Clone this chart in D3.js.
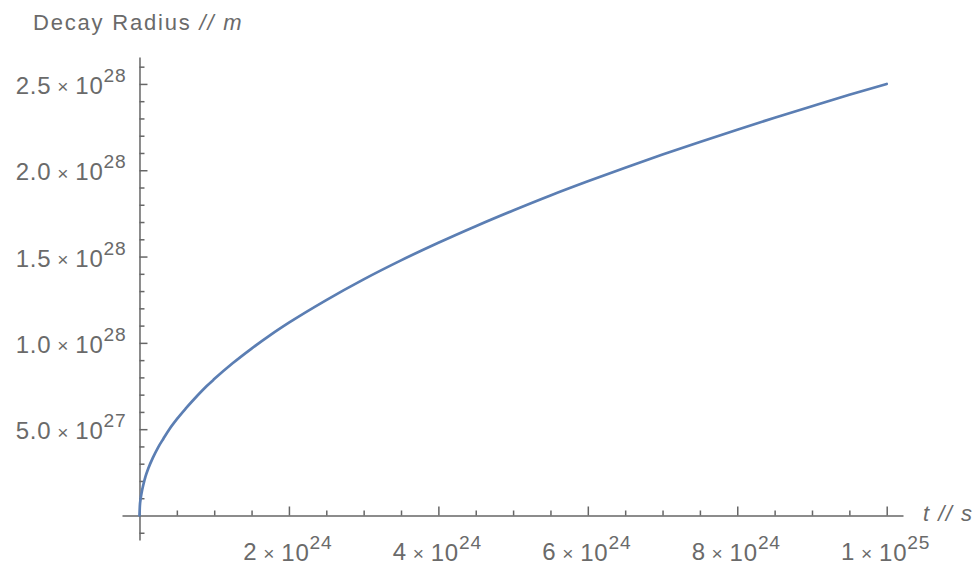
<!DOCTYPE html>
<html>
<head>
<meta charset="utf-8">
<script src="https://cdn.jsdelivr.net/npm/d3@7"></script>
<style>
  html, body { margin: 0; padding: 0; background: #fff; }
  svg { display: block; }
  text { font-family: "Liberation Sans", Arial, sans-serif; fill: #6a6a6a; }
</style>
</head>
<body>
<svg id="chart" width="975" height="566"></svg>
<script>
// ---- data (t in s, r in m) ----
const tValues = [0, 0.005e24, 0.015e24, 0.03e24, 0.05e24, 0.08e24, 0.12e24, 0.18e24, 0.25e24, 0.32e24, 0.4e24, 0.5e24, 0.62e24, 0.77e24, 0.9e24,
  1.0e24, 1.25e24, 1.5e24, 1.75e24, 2.0e24, 2.5e24, 3.0e24, 3.5e24, 4.0e24, 4.5e24, 5.0e24, 5.5e24, 6.0e24, 6.5e24,
  7.0e24, 7.5e24, 8.0e24, 8.5e24, 9.0e24, 9.5e24, 1.0e25];
const rValues = [0, 0.55e27, 0.95e27, 1.35e27, 1.75e27, 2.25e27, 2.75e27, 3.35e27, 3.95e27, 4.45e27, 5.0e27, 5.58e27, 6.2e27, 6.92e27, 7.5e27,
  7.9e27, 8.83e27, 9.67e27, 10.45e27, 11.17e27, 12.48e27, 13.68e27, 14.78e27, 15.8e27, 16.76e27, 17.67e27, 18.54e27, 19.36e27, 20.15e27,
  20.91e27, 21.64e27, 22.35e27, 23.04e27, 23.71e27, 24.37e27, 25.0e27];

// ---- ticks ----
const xMajorTicks = [2e24, 4e24, 6e24, 8e24, 1e25];
const xTickMantissa = ["2", "4", "6", "8", "1"];
const xTickExponent = ["24", "24", "24", "24", "25"];
const xMinorTicks = [0.5e24, 1e24, 1.5e24, 2.5e24, 3e24, 3.5e24, 4.5e24, 5e24, 5.5e24, 6.5e24, 7e24, 7.5e24, 8.5e24, 9e24, 9.5e24];

const yMajorTicks = [5e27, 1e28, 1.5e28, 2e28, 2.5e28];
const yTickMantissa = ["5.0", "1.0", "1.5", "2.0", "2.5"];
const yTickExponent = ["27", "28", "28", "28", "28"];
const yMinorTicks = [-1e27, 1e27, 2e27, 3e27, 4e27, 6e27, 7e27, 8e27, 9e27, 11e27, 12e27, 13e27, 14e27,
  16e27, 17e27, 18e27, 19e27, 21e27, 22e27, 23e27, 24e27, 26e27];

const xLabel = ["t", " // ", "s"];
const yLabel = ["Decay Radius", " // ", "m"];

// ---- scales ----
const x = d3.scaleLinear().domain([-0.234e24, 1.0218e25]).range([122, 903]);
const y = d3.scaleLinear().domain([-1.42e27, 2.656e28]).range([540, 57]);

const svg = d3.select("#chart");
const axisColor = "#666";

// ---- y axis ----
const gy = svg.append("g").attr("transform", `translate(${x(0)},0)`);
gy.call(d3.axisRight(y).tickValues(yMajorTicks).tickSize(8).tickSizeOuter(0).tickFormat(""));
const gy2 = svg.append("g").attr("transform", `translate(${x(0)},0)`);
gy2.call(d3.axisRight(y).tickValues(yMinorTicks).tickSize(5).tickSizeOuter(0).tickFormat(""));
gy2.select(".domain").remove();

// ---- x axis ----
const gx = svg.append("g").attr("transform", `translate(0,${y(0)})`);
gx.call(d3.axisTop(x).tickValues(xMajorTicks).tickSize(9).tickSizeOuter(0).tickFormat(""));
const gx2 = svg.append("g").attr("transform", `translate(0,${y(0)})`);
gx2.call(d3.axisTop(x).tickValues(xMinorTicks).tickSize(5).tickSizeOuter(0).tickFormat(""));
gx2.select(".domain").remove();

svg.selectAll(".domain, .tick line").attr("stroke", axisColor).attr("stroke-width", 1.5);

// ---- tick labels ----
function sciLabel(sel, mant, exp) {
  sel.append("tspan").text(mant);
  sel.append("tspan").attr("font-size", "0.8em").attr("dx", "0.3em").attr("dy", "-0.03em").text("\u00d7");
  sel.append("tspan").attr("dx", "0.25em").attr("dy", "0.03em").text("10");
  sel.append("tspan").attr("font-size", "0.8em").attr("dy", "-0.62em").text(exp);
}

yMajorTicks.forEach((v, i) => {
  const t = svg.append("text")
    .attr("x", x(0) - 13)
    .attr("y", y(v) + 10)
    .attr("text-anchor", "end")
    .attr("font-size", 24)
    .attr("letter-spacing", 0.8);
  sciLabel(t, yTickMantissa[i], yTickExponent[i]);
});

xMajorTicks.forEach((v, i) => {
  const t = svg.append("text")
    .attr("x", x(v) - 1)
    .attr("y", y(0) + 45)
    .attr("text-anchor", "middle")
    .attr("font-size", 24)
    .attr("letter-spacing", 0.8);
  sciLabel(t, xTickMantissa[i], xTickExponent[i]);
});

// ---- axis labels ----
const yl = svg.append("text").attr("x", 33).attr("y", 30).attr("font-size", 22).attr("letter-spacing", 1.8);
yl.append("tspan").text(yLabel[0]);
yl.append("tspan").attr("font-style", "italic").text(yLabel[1]);
yl.append("tspan").attr("font-style", "italic").text(yLabel[2]);

const xl = svg.append("text").attr("x", 923).attr("y", 521).attr("font-size", 22).attr("letter-spacing", 1.5);
xl.append("tspan").attr("font-style", "italic").text(xLabel[0]);
xl.append("tspan").attr("font-style", "italic").text(xLabel[1]);
xl.append("tspan").attr("font-style", "italic").text(xLabel[2]);

// ---- curve ----
const pts = tValues.map((t, i) => [t, rValues[i]]);
svg.append("path")
  .datum(pts)
  .attr("fill", "none")
  .attr("stroke", "#5b7eb3")
  .attr("stroke-width", 2.7)
  .attr("stroke-linejoin", "round")
  .attr("stroke-linecap", "round")
  .attr("d", d3.line().x(d => x(d[0])).y(d => y(d[1])).curve(d3.curveMonotoneX));
</script>
</body>
</html>
